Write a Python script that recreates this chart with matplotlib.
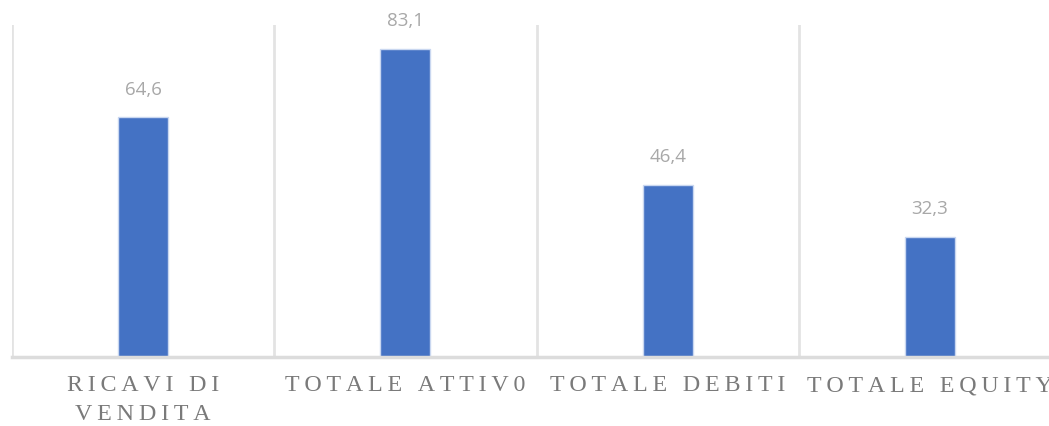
import matplotlib.pyplot as plt
from matplotlib import font_manager

categories = ["RICAVI DI\nVENDITA", "TOTALE ATTIV0", "TOTALE DEBITI", "TOTALE EQUITY"]
values = [64.6, 83.1, 46.4, 32.3]
value_labels = ["64,6", "83,1", "46,4", "32,3"]

BAR_COLOR = "#4472C4"
GRID_COLOR = "#e3e3e3"


def spaced(text):
    # widen the category labels with thin spaces between letters
    return "\n".join("\u2009".join(line) for line in text.split("\n"))


fig = plt.figure(figsize=(10.49, 4.26), dpi=100)
ax = fig.add_axes([12 / 1049, 69 / 426, 1049 / 1049, 332 / 426])

x = list(range(len(categories)))
ax.bar(x, values, width=0.19, color=BAR_COLOR, edgecolor="#c9d7f0", linewidth=1, zorder=3)

for xi, v, lab in zip(x, values, value_labels):
    ax.annotate(lab, (xi, v), xytext=(0, 20), textcoords="offset points",
                ha="center", va="center", fontsize=13.5, color="#a8a8a8",
                family=["Open Sans", "DejaVu Sans"])

# category separators
for sep in [-0.5, 0.5, 1.5, 2.5]:
    ax.axvline(sep, color=GRID_COLOR, linewidth=2, zorder=1)

ax.set_xlim(-0.5, 3.5)
ax.set_ylim(0, 89.5)
ax.set_yticks([])
ax.set_xticks([])

serif = font_manager.FontProperties(family=["Liberation Serif", "DejaVu Serif"], size=17.3)
for xi, c in zip(x, categories):
    ax.text(xi, -0.055, spaced(c), transform=ax.get_xaxis_transform(),
            ha="center", va="top", color="#7a7a7a", fontproperties=serif,
            linespacing=1.5, clip_on=False)

for side in ["top", "right", "left"]:
    ax.spines[side].set_visible(False)
ax.spines["bottom"].set_color("#dcdcdc")
ax.spines["bottom"].set_linewidth(2.5)
ax.spines["bottom"].set_zorder(4)

fig.savefig("out.png", dpi=100)
